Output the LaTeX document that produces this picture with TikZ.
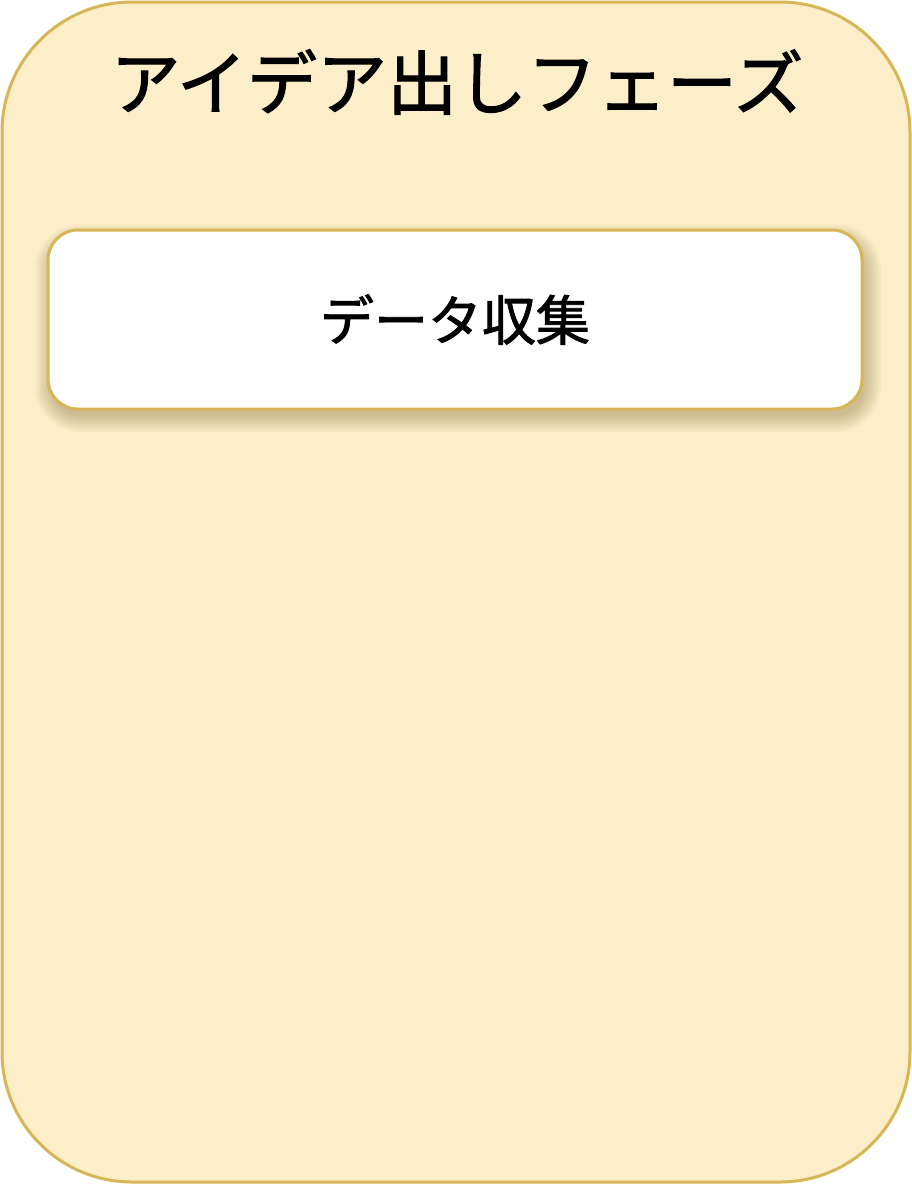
\documentclass[tikz,border=0pt]{standalone}
\usepackage{fontspec}
\newfontfamily\jp[FakeBold=1.6]{Noto Sans CJK JP}
\definecolor{phasefill}{HTML}{FCEEC8}
\definecolor{phaseline}{HTML}{D6B656}
\definecolor{shadowcol}{HTML}{7A6530}
\tikzset{
  phasebox/.style={draw=phaseline, fill=phasefill, line width=3pt, rounded corners=130pt},
  stepbox/.style={draw=phaseline, fill=white, line width=3pt, rounded corners=30pt,
    minimum width=814pt, minimum height=179pt, inner sep=0pt},
  shadowlayer/.style={fill=shadowcol, fill opacity=0.045, draw=none},
  titletext/.style={font=\jp\fontsize{70}{80}\selectfont, text=black},
  steptext/.style={font=\jp\fontsize{54}{64}\selectfont, text=black}
}
\begin{document}
\begin{tikzpicture}[x=1pt,y=-1pt]
\useasboundingbox (0,0) rectangle (912,1184);
\draw[phasebox] (2,2) rectangle (910,1182);
\node[titletext] (title) at (457,82) {アイデア出しフェーズ};
% soft drop shadow under the step box
\foreach \s in {0,2,...,16}{
  \fill[shadowlayer, rounded corners=30pt+\s pt]
    (48+3-\s,232+8-\s) rectangle (862+3+\s,408+8+\s);
}
\node[stepbox, steptext] (collect) at (455,319.5) {データ収集};
\end{tikzpicture}
\end{document}
